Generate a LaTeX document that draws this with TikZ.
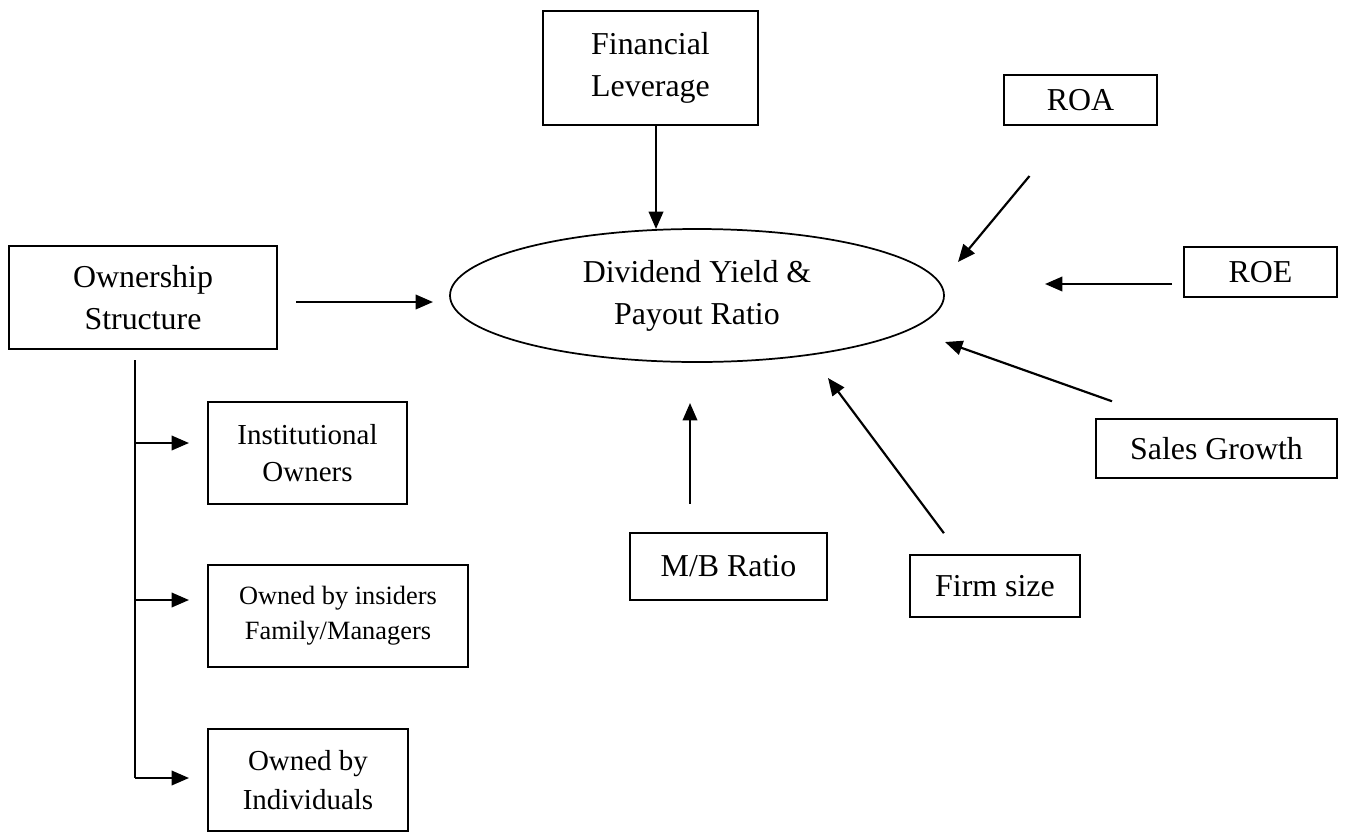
\documentclass[tikz,border=0pt]{standalone}
\usepackage{fontspec}
\setmainfont{Liberation Serif}
\usetikzlibrary{shapes.geometric,arrows.meta}

\newcommand{\px}{0.345pt}

\begin{document}
\begin{tikzpicture}[x=0.345pt, y=-0.345pt,  % one unit = one pixel of the layout
    box/.style={draw, line width=0.7pt, inner sep=0pt, align=center,
                font=\fontsize{11}{14.5}\selectfont},
    smallbox/.style={box, font=\fontsize{10}{12.7}\selectfont},
    arr/.style={-{Triangle[length=6pt,width=5pt]}, line width=0.75pt}]
    % Fix the page size
    \useasboundingbox (0,0) rectangle (1347,832);

    % Central ellipse
    \node[box, ellipse, line width=0.6pt, minimum width=494*\px, minimum height=133*\px]
        (div) at (697,295.5) {Dividend Yield \&\\Payout Ratio};

    % Determinants around it
    \node[box, minimum width=215*\px, minimum height=114*\px] (fin) at (650.5,68) {Financial\\Leverage};
    \node[box, minimum width=153*\px, minimum height=50*\px] (roa) at (1080.5,100) {ROA};
    \node[box, minimum width=153*\px, minimum height=50*\px] (roe) at (1260.5,272) {ROE};
    \node[box, minimum width=241*\px, minimum height=59*\px] (sales) at (1216.5,448.5) {Sales Growth};
    \node[box, minimum width=170*\px, minimum height=62*\px] (firm) at (995,586) {Firm size};
    \node[box, minimum width=197*\px, minimum height=67*\px] (mb) at (728.5,566.5) {M/B Ratio};
    \node[box, minimum width=268*\px, minimum height=103*\px] (own) at (143,297.5) {Ownership\\Structure};

    % Ownership types
    \node[smallbox, minimum width=199*\px, minimum height=102*\px] (inst) at (307.5,453) {Institutional\\Owners};
    \node[smallbox, font=\fontsize{9.1}{12}\selectfont, minimum width=260*\px, minimum height=102*\px]
        (ins) at (338,616) {Owned by insiders\\Family/Managers};
    \node[smallbox, font=\fontsize{10}{13.2}\selectfont, minimum width=200*\px, minimum height=102*\px]
        (indv) at (308,780) {Owned by\\Individuals};

    % Free arrow heads near the ellipse
    \coordinate (finTip) at (656,229);
    \coordinate (ownTip) at (433,302);
    \coordinate (roaTip) at (958,262);
    \coordinate (roeTip) at (1045,284);
    \coordinate (salesTip) at (945,342);
    \coordinate (firmTip) at (828,378);
    \coordinate (mbTip) at (690,403);

    % Arrows into the ellipse
    \draw[arr] (finTip |- fin.south) -- (finTip);
    \draw[arr, shorten <=18*\px] (own.east |- ownTip) -- (ownTip);
    \draw[arr, shorten <=65*\px] (roa.250) -- (roaTip);
    \draw[arr, shorten <=11*\px] (roe.west |- roeTip) -- (roeTip);
    \draw[arr, shorten <=50*\px] (sales.152) -- (salesTip);
    \draw[arr, shorten <=26*\px] (firm.138) -- (firmTip);
    \draw[arr, shorten <=28*\px] (mbTip |- mb.north) -- (mbTip);

    % Ownership tree
    \coordinate (trunk) at (135,360);
    \coordinate (b1) at (135,443);
    \coordinate (b2) at (135,600);
    \coordinate (b3) at (135,778);
    \draw[line width=0.75pt] (trunk) -- (b3);
    \foreach \b/\n in {b1/inst, b2/ins, b3/indv}
        \draw[arr, shorten >=18*\px] (\b) -- (\b -| \n.west);

\end{tikzpicture}
\end{document}
